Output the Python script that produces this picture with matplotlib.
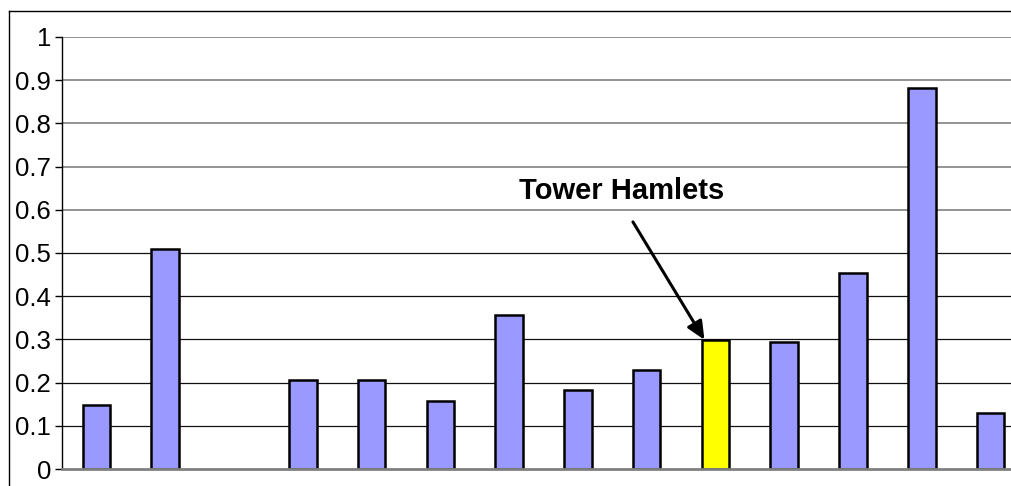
import numpy as np
import matplotlib
matplotlib.use("Agg")
import matplotlib.pyplot as plt
from matplotlib.lines import Line2D

plt.rcParams['font.family'] = ['Liberation Sans', 'DejaVu Sans']

# values per borough, one slot is empty in the source
positions = list(range(14))
values = [0.148, 0.51, np.nan, 0.206, 0.206, 0.157, 0.357, 0.183, 0.229, 0.299,
          0.293, 0.453, 0.883, 0.130]
highlight = 9
highlight_label = "Tower Hamlets"
yticks = [0, 0.1, 0.2, 0.3, 0.4, 0.5, 0.6, 0.7, 0.8, 0.9, 1.0]
ytick_labels = ["0", "0.1", "0.2", "0.3", "0.4", "0.5", "0.6", "0.7", "0.8", "0.9", "1"]

W, H = 1012, 486
fig = plt.figure(figsize=(W / 100, H / 100), dpi=100)
ax = fig.add_axes([62 / W, 17 / H, (1012 - 62) / W, (469 - 37) / H])

# outer chart border (only top and left visible)
fig.add_artist(Line2D([9 / W, 9 / W], [0, 1 - 11 / H], transform=fig.transFigure, color="black", lw=1))
fig.add_artist(Line2D([9 / W, 1], [1 - 11 / H, 1 - 11 / H], transform=fig.transFigure, color="black", lw=1))

# gridlines
for t in yticks[1:]:
    c = "#808080" if t > 0.55 else "#111111"
    ax.axhline(t, color=c, lw=1.2 if t > 0.55 else 0.9, zorder=1)

colors = ["#FFFF00" if i == highlight else "#9999FF" for i in positions]
xs = [p for p, v in zip(positions, values) if not np.isnan(v)]
hs = [v for v in values if not np.isnan(v)]
cs = [c for c, v in zip(colors, values) if not np.isnan(v)]
ax.bar(xs, hs, width=0.4, color=cs, edgecolor="black", linewidth=1.8, zorder=3)

ax.set_xlim(-0.5, 13.5 - (1025 - 1012) / 68.8)
ax.set_ylim(0, 1)
ax.set_yticks(yticks)
ax.set_yticklabels(ytick_labels, fontsize=18.5)
ax.set_xticks([])
ax.tick_params(axis="y", direction="out", length=5, width=1, pad=3)

for s in ["top", "right"]:
    ax.spines[s].set_visible(False)
ax.spines["left"].set_color("black")
ax.spines["left"].set_linewidth(1)
ax.spines["bottom"].set_color("#808080")
ax.spines["bottom"].set_linewidth(2)
ax.spines["bottom"].set_zorder(4)

ax.text(7.64, 0.625, highlight_label, ha="center", va="baseline",
        fontsize=21, fontweight="bold", zorder=5)
ax.annotate("", xy=(8.84, values[highlight]), xytext=(7.80, 0.572),
            arrowprops=dict(arrowstyle="-|>,head_length=1.1,head_width=0.5",
                            color="black", lw=2.2, shrinkA=0, shrinkB=0),
            zorder=5)

fig.savefig("out.png", dpi=100)
